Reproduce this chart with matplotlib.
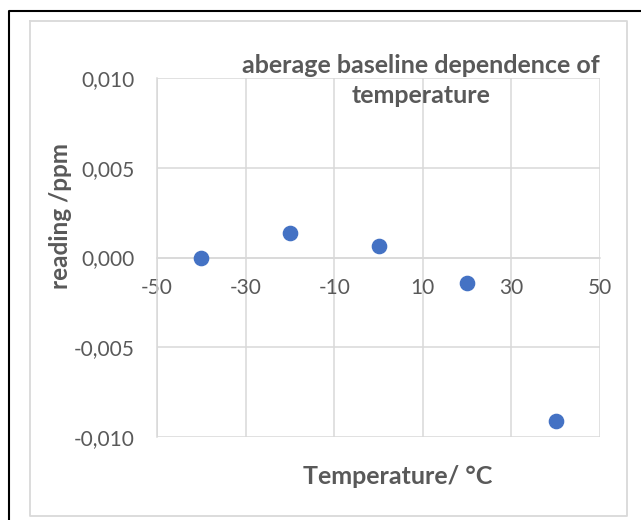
import matplotlib
matplotlib.use("Agg")
import matplotlib.pyplot as plt
from matplotlib.ticker import FuncFormatter
from matplotlib.lines import Line2D

temperature = [-40, -20, 0, 20, 40]
reading = [0.0000, 0.00136, 0.00064, -0.00142, -0.0091]
x_ticks = [-50, -30, -10, 10, 30, 50]
y_ticks = [-0.010, -0.005, 0.000, 0.005, 0.010]
title = "aberage baseline dependence of\ntemperature"
x_label = "Temperature/ °C"
y_label = "reading /ppm"

W, H = 641, 520
plt.rcParams['font.family'] = ['Lato', 'DejaVu Sans']
fig = plt.figure(figsize=(W / 100, H / 100), dpi=100)
txt = '#595959'
grid = '#D9D9D9'

def fx(px):
    return px / W

def fy(py):
    return 1 - py / H

# chart borders
fig.add_artist(Line2D([fx(29.5), fx(626.5), fx(626.5), fx(29.5), fx(29.5)],
                      [fy(20.5), fy(20.5), fy(515.5), fy(515.5), fy(20.5)],
                      color=grid, lw=1.3, transform=fig.transFigure))
fig.add_artist(Line2D([fx(8.5), fx(8.5), fx(641)], [fy(520), fy(10.5), fy(10.5)],
                      color='black', lw=1.5, transform=fig.transFigure))

ax = fig.add_axes([fx(157), fy(437), fx(600) - fx(157), fy(78) - fy(437)])
ax.set_xlim(-50, 50)
ax.set_ylim(-0.010, 0.010)
ax.set_xticks(x_ticks)
ax.set_yticks(y_ticks)
ax.xaxis.set_major_formatter(FuncFormatter(lambda v, p: f"{v:.0f}"))
ax.yaxis.set_major_formatter(FuncFormatter(lambda v, p: f"{v:.3f}".replace('.', ',').replace('-0,000', '0,000')))
ax.grid(True, color=grid, lw=1.1)
ax.set_axisbelow(True)
for s in ['top', 'right']:
    ax.spines[s].set_visible(False)
ax.spines['bottom'].set_position(('data', 0))
ax.spines['bottom'].set_color(grid)
ax.spines['left'].set_color(grid)
ax.spines['bottom'].set_linewidth(1.1)
ax.spines['left'].set_linewidth(1.1)
ax.tick_params(axis='both', length=0, labelsize=15, labelcolor=txt)
ax.tick_params(axis='x', pad=15)
ax.tick_params(axis='y', pad=16)

ax.scatter(temperature, reading, s=105, color='#4472C4', zorder=3, clip_on=False)

title_lines = title.split('\n')
for line, base in zip(title_lines, [73, 103]):
    fig.text(fx(421), fy(base), line, ha='center', va='baseline', fontsize=18,
             fontweight='bold', color=txt)
fig.text(fx(398), fy(477), x_label, ha='center', va='center', fontsize=18,
         fontweight='bold', color=txt)
fig.text(fx(61), fy(216), y_label, ha='center', va='center', fontsize=17.5,
         fontweight='bold', color=txt, rotation=90)

fig.savefig('out.png', dpi=100)
